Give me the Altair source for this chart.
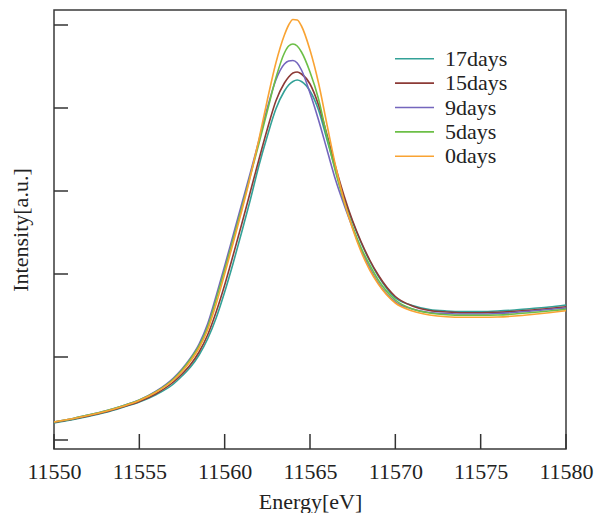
import altair as alt
import pandas as pd

energy = [11550, 11551, 11552, 11553, 11554, 11555, 11556, 11557, 11557.5, 11558,
          11558.5, 11559, 11559.5, 11560, 11560.5, 11561, 11561.5, 11562, 11562.5, 11563,
          11563.5, 11563.75, 11564, 11564.25, 11564.5, 11565, 11565.5, 11566, 11566.5, 11567,
          11567.5, 11568, 11568.5, 11569, 11570, 11571, 11572, 11573, 11574, 11575,
          11576, 11577, 11578, 11579, 11580]

days_17 = [17, 20, 23.5, 27.5, 32.5, 38, 45.5, 56, 64, 73,
           85, 101, 122, 148, 177, 208, 240, 274, 304, 331,
           349, 355, 358.5, 360, 358.5, 349, 330, 300, 270, 241,
           218, 197, 179, 164, 142, 134.5, 130.5, 129, 128.5, 128.5,
           129, 130, 131.5, 133, 135]

days_15 = [17.5, 20.5, 24, 28, 33, 38.5, 46.5, 58, 66, 75.5,
           88, 105, 128, 155, 185, 216, 248, 280, 311, 339,
           357, 363, 367, 368, 366, 356, 335, 305, 273, 244,
           219, 198, 180, 165, 143.5, 134, 129.5, 128, 127.3, 127.3,
           127.7, 128.7, 130, 131.5, 133.3]

days_9 = [18, 21, 25, 29, 34, 40, 49, 62, 71, 82,
          96, 116, 144, 174, 205, 236, 267, 299, 332, 360,
          376, 379, 379.5, 377, 370, 347, 320, 290, 260, 235,
          212, 190, 172, 157, 138, 131, 127.5, 126.5, 126, 126,
          126.5, 127.5, 129, 130.5, 132]

days_5 = [18, 21, 25, 29, 34, 40, 48.5, 61, 70, 81,
          94, 113, 140.5, 170, 201, 232, 264, 296, 329, 362,
          387, 394, 396, 394, 388, 368, 341, 303, 268, 238,
          213, 192, 175, 160, 140, 131, 127, 125.2, 124.7, 124.7,
          125, 126, 127.5, 129, 130.7]

days_0 = [18, 21, 24.5, 28.5, 33.5, 39.5, 48, 60, 68.5, 79,
          92, 110, 136, 166, 197, 229, 263, 300, 340, 377,
          405, 415, 420.5, 420, 414, 390, 357, 315, 274, 239,
          211, 188, 170, 156, 137, 129, 125, 123.2, 122.7, 122.7,
          123, 124, 125.5, 127.3, 129.3]

series_names = ["17days", "15days", "9days", "5days", "0days"]
series_values = [days_17, days_15, days_9, days_5, days_0]
series_colors = ["#33a197", "#8c3a36", "#7466bd", "#6cbf47", "#f9a333"]

x_ticks = [11550, 11555, 11560, 11565, 11570, 11575, 11580]
y_ticks = [0, 83, 166, 249, 332, 415]

rows = []
for name, vals in zip(series_names, series_values):
    for e, v in zip(energy, vals):
        rows.append({"Energy": e, "Intensity": v, "Sample": name})
df = pd.DataFrame(rows)

FONT = "Liberation Serif"
FS = 22
TXT = "#222222"
W, H = 512, 439

xscale = alt.Scale(domain=[11550, 11580], nice=False, zero=False)
yscale = alt.Scale(domain=[-9, 430], nice=False, zero=False)

xaxis = alt.Axis(title="Energy[eV]", values=x_ticks, format="d", ticks=False,
                 domain=False, grid=False, labelFont=FONT, labelFontSize=FS,
                 labelColor=TXT, labelPadding=12, labelFlush=False, labelOverlap=False,
                 titleFont=FONT, titleFontSize=FS, titleFontWeight="normal",
                 titleColor=TXT, titlePadding=9)
yaxis = alt.Axis(title="Intensity[a.u.]", labels=False, ticks=False,
                 domain=False, grid=False, titleFont=FONT, titleFontSize=FS,
                 titleFontWeight="normal", titleColor=TXT, titlePadding=22)

lines = alt.Chart(df).mark_line(strokeWidth=1.6, interpolate="monotone").encode(
    x=alt.X("Energy:Q", scale=xscale, axis=xaxis),
    y=alt.Y("Intensity:Q", scale=yscale, axis=yaxis),
    color=alt.Color("Sample:N",
                    scale=alt.Scale(domain=series_names, range=series_colors),
                    legend=alt.Legend(title=None, orient="none", legendX=340, legendY=37.7,
                                      symbolType="stroke", symbolSize=1521,
                                      symbolStrokeWidth=1.6, labelFont=FONT,
                                      labelFontSize=FS, labelColor=TXT, labelOffset=10,
                                      clipHeight=22, rowPadding=2.4, padding=0)),
)

xt = alt.Chart(pd.DataFrame({"Energy": x_ticks})).mark_rule(color="#333333", strokeWidth=1.5).encode(
    x=alt.X("Energy:Q", scale=xscale, axis=xaxis),
    y=alt.value(H),
    y2=alt.value(H - 15),
)

yt = alt.Chart(pd.DataFrame({"Intensity": y_ticks})).mark_rule(color="#333333", strokeWidth=1.5).encode(
    y=alt.Y("Intensity:Q", scale=yscale, axis=yaxis),
    x=alt.value(0),
    x2=alt.value(14),
)

chart = alt.layer(lines, xt, yt).properties(
    width=W, height=H,
    autosize=alt.AutoSizeParams(type="none"),
    padding={"left": 54, "top": 10, "right": 30, "bottom": 64},
    background="white",
).configure_view(stroke="#3a3a3a", strokeWidth=1.5)

chart.save("out.html", embed_options={"renderer": "svg", "actions": False})
